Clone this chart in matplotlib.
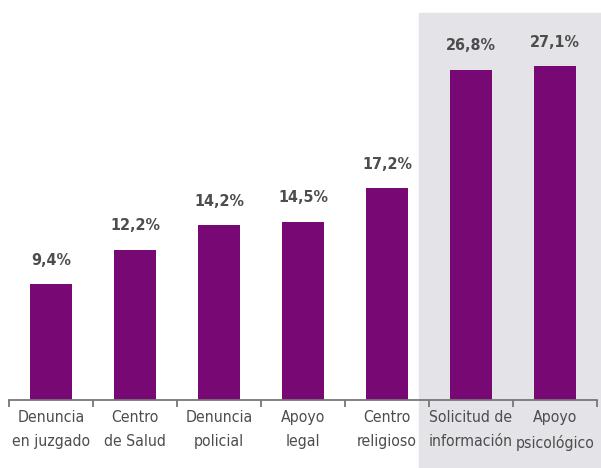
import matplotlib.pyplot as plt
from matplotlib.patches import Rectangle
from matplotlib import font_manager

cats = ['Denuncia\nen juzgado', 'Centro\nde Salud', 'Denuncia\npolicial', 'Apoyo\nlegal',
        'Centro\nreligioso', 'Solicitud de\ninformación', 'Apoyo\npsicológico']
vals = [9.4, 12.2, 14.2, 14.5, 17.2, 26.8, 27.1]
labels = ['9,4%', '12,2%', '14,2%', '14,5%', '17,2%', '26,8%', '27,1%']

names = {f.name for f in font_manager.fontManager.ttflist}
if 'Liberation Sans Narrow' in names:
    fam = 'Liberation Sans Narrow'
else:
    fam = 'DejaVu Sans'

purple = '#780873'
txt = '#4d4d4d'

fig = plt.figure(figsize=(6.01, 4.68), dpi=100)
fig.patches.append(Rectangle((419 / 601, 0), 1, (468 - 13) / 468,
                             transform=fig.transFigure, color='#e4e4e8', zorder=-1))
ax = fig.add_axes([9 / 601, 68 / 468, 588 / 601, 400 / 468])
ax.patch.set_alpha(0)
ax.set_zorder(1)

x = list(range(len(vals)))
ax.bar(x, vals, width=0.5, color=purple, zorder=2)
for i, v in enumerate(vals):
    ax.annotate(labels[i], (i, v), xytext=(0, 12), textcoords='offset points',
                ha='center', va='bottom', fontsize=11.5, fontweight='bold',
                color=txt, family=fam, fontstretch='condensed')
    ax.text(i, -0.8, cats[i], ha='center', va='top', fontsize=11.3, color=txt,
            family=fam, fontstretch='condensed', linespacing=1.75)

ax.set_xlim(-0.5, 6.5)
ax.set_ylim(0, 32.5)
for s in ['top', 'right', 'left']:
    ax.spines[s].set_visible(False)
ax.spines['bottom'].set_color('#777777')
ax.spines['bottom'].set_linewidth(1.3)
ax.set_yticks([])
ax.set_xticks([i - 0.5 for i in range(8)])
ax.set_xticklabels([])
ax.tick_params(axis='x', length=5, width=1.3, color='#777777')

fig.savefig('out.png', dpi=100)
